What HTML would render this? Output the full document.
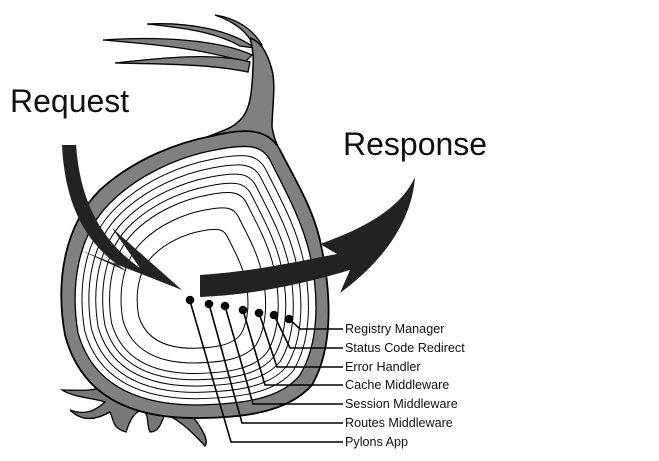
<!DOCTYPE html>
<html><head><meta charset="utf-8"><style>
html,body{margin:0;padding:0;background:#fff;}
svg{display:block;}
text{font-family:"Liberation Sans",sans-serif;fill:#111;}
</style></head><body>
<svg width="659" height="461" viewBox="0 0 659 461">
<defs>
<path id="inner" d="M215,150 C250,143 262,146 270,160 C285,190 302,220 310,255 C320,300 318,345 300,375 C280,400 240,404 197,405 C135,405 92,383 78,333 C70,285 78,235 110,203 C140,173 182,156 215,150 Z"/>
<clipPath id="clip"><use href="#inner"/></clipPath>
</defs>
<!-- roots -->
<path d="M105,386 C92,392 78,390 62,390 C75,398 95,398 105,402 C96,410 86,416 70,410 C82,422 96,420 110,412 C114,420 112,428 126,432 C130,420 134,412 142,410 C150,414 146,424 150,432 C160,432 162,420 165,414 C180,420 192,432 205,446 C210,440 198,420 185,410 C165,400 140,396 115,378 Z" fill="#777" stroke="#000" stroke-width="1.3"/>
<!-- leaves -->
<g fill="#808080" stroke="#000" stroke-width="1.3">
<path d="M255,48 C230,30 190,22 147,24 C185,28 215,32 240,46 Z"/>
<path d="M252,55 C220,40 160,36 103,40 C150,44 200,48 245,62 Z"/>
<path d="M250,62 C215,52 160,58 115,63 C160,64 210,64 248,72 Z"/>
<path d="M262,45 C252,28 235,18 215,15 C235,22 248,32 255,48 Z"/>
</g>
<!-- stem -->
<path d="M207,137 C220,132 232,128 238,122 C250,112 252,95 253,67 C254,55 252,45 250,38 C262,42 268,55 272,70 C276,85 272,110 272,127 C274,140 280,152 285,162 L250,160 Z" fill="#808080" stroke="#000" stroke-width="1.5"/>
<!-- body -->
<path d="M212,136 C245,128 268,128 280,150 C295,180 315,210 322,250 C332,300 332,350 312,385 C288,412 245,418 195,418 C125,418 80,392 65,335 C55,280 65,225 100,190 C135,158 180,142 212,136 Z" fill="#808080" stroke="#000" stroke-width="1.8"/>
<use href="#inner" fill="#fff" stroke="#000" stroke-width="1.3"/>
<g clip-path="url(#clip)" fill="none" stroke="#000">
<path d="M215,150 C250,143 262,146 270,160 C285,190 302,220 310,255 C320,300 318,345 300,375 C280,400 240,404 197,405 C135,405 92,383 78,333 C70,285 78,235 110,203 C140,173 182,156 215,150 Z" transform="translate(190,300) scale(0.94) translate(-190,-300)" vector-effect="non-scaling-stroke" stroke-width="1"/>
<path d="M215,150 C250,143 262,146 270,160 C285,190 302,220 310,255 C320,300 318,345 300,375 C280,400 240,404 197,405 C135,405 92,383 78,333 C70,285 78,235 110,203 C140,173 182,156 215,150 Z" transform="translate(190,300) scale(0.88) translate(-190,-300)" vector-effect="non-scaling-stroke" stroke-width="1"/>
<path d="M215,150 C250,143 262,146 270,160 C285,190 302,220 310,255 C320,300 318,345 300,375 C280,400 240,404 197,405 C135,405 92,383 78,333 C70,285 78,235 110,203 C140,173 182,156 215,150 Z" transform="translate(190,300) scale(0.82) translate(-190,-300)" vector-effect="non-scaling-stroke" stroke-width="1"/>
<path d="M215,150 C250,143 262,146 270,160 C285,190 302,220 310,255 C320,300 318,345 300,375 C280,400 240,404 197,405 C135,405 92,383 78,333 C70,285 78,235 110,203 C140,173 182,156 215,150 Z" transform="translate(190,300) scale(0.76) translate(-190,-300)" vector-effect="non-scaling-stroke" stroke-width="1"/>
<path d="M215,150 C250,143 262,146 270,160 C285,190 302,220 310,255 C320,300 318,345 300,375 C280,400 240,404 197,405 C135,405 92,383 78,333 C70,285 78,235 110,203 C140,173 182,156 215,150 Z" transform="translate(190,300) scale(0.70) translate(-190,-300)" vector-effect="non-scaling-stroke" stroke-width="1"/>
<path d="M215,150 C250,143 262,146 270,160 C285,190 302,220 310,255 C320,300 318,345 300,375 C280,400 240,404 197,405 C135,405 92,383 78,333 C70,285 78,235 110,203 C140,173 182,156 215,150 Z" transform="translate(190,300) scale(0.60) translate(-190,-300)" vector-effect="non-scaling-stroke" stroke-width="1"/>
<path d="M215,150 C250,143 262,146 270,160 C285,190 302,220 310,255 C320,300 318,345 300,375 C280,400 240,404 197,405 C135,405 92,383 78,333 C70,285 78,235 110,203 C140,173 182,156 215,150 Z" transform="translate(190,300) scale(0.46) translate(-190,-300)" vector-effect="non-scaling-stroke" stroke-width="1"/>
</g>
<!-- request arrow -->
<path d="M62,145 L76,145 C80,200 100,240 140,268 L112,228 L182,290 L80,250 L128,272 C85,245 65,205 62,145 Z" fill="#222"/>
<!-- response arrow -->
<path d="M200,275 C250,272 295,262 337,254 L320,244 C360,230 400,210 415,177 C412,220 385,260 340,293 L350,270 C300,285 250,295 200,297 Z" fill="#222"/>
<text x="10" y="112" font-size="32">Request</text>
<text x="343" y="155" font-size="32">Response</text>
<g fill="none" stroke="#000" stroke-width="1.6">
<polyline points="190,301 231,442 343,442"/>
<polyline points="209,304 242,423 343,423"/>
<polyline points="225,306 253,404 343,404"/>
<polyline points="243,310 265,385 343,385"/>
<polyline points="259,313 277,367 343,367"/>
<polyline points="274,315 290,348 343,348"/>
<polyline points="289,319 300,329 343,329"/>
</g>
<g fill="#000">
<circle cx="190" cy="300" r="4.3"/><circle cx="209" cy="304" r="4.3"/><circle cx="225" cy="306" r="4.3"/><circle cx="243" cy="310" r="4.3"/><circle cx="259" cy="313" r="4.3"/><circle cx="274" cy="315" r="4.3"/><circle cx="289" cy="319" r="4.3"/>
</g>
<g font-size="12.6">
<text x="345" y="333">Registry Manager</text>
<text x="345" y="352">Status Code Redirect</text>
<text x="345" y="371">Error Handler</text>
<text x="345" y="389">Cache Middleware</text>
<text x="345" y="408">Session Middleware</text>
<text x="345" y="427">Routes Middleware</text>
<text x="345" y="446">Pylons App</text>
</g>
</svg>
</body></html>
